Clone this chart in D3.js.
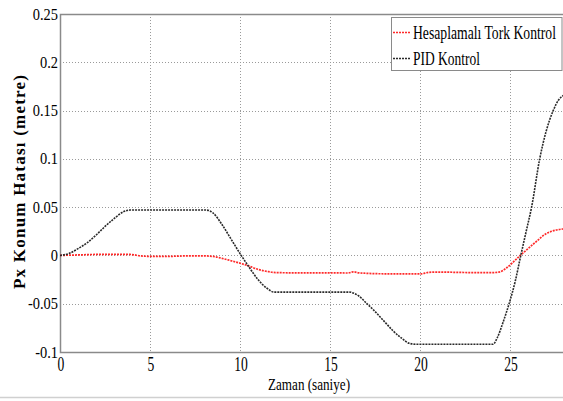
<!DOCTYPE html>
<html>
<head>
<meta charset="utf-8">
<script src="https://cdn.jsdelivr.net/npm/d3@7"></script>
<style>
  body { margin: 0; background: #fff; }
  svg text { font-family: "Liberation Serif", "DejaVu Serif", serif; }
</style>
</head>
<body>
<svg id="chart" width="563" height="401"></svg>
<script>
// PID Kontrol (black)
var pidTime = [0, 0.5, 1, 1.5, 2, 2.5, 3, 3.5, 3.9, 8.1, 8.5, 9, 9.5, 10, 10.5, 11, 11.5, 11.9,
  16.1, 16.3, 16.6, 17, 17.5, 18, 18.5, 19, 19.4, 19.8, 24.05, 24.3, 24.6, 24.95, 25.3, 25.6, 25.9, 26.2, 26.65, 27.0, 27.4, 27.7, 28]
var pidValue = [0, 0.002, 0.007, 0.013, 0.021, 0.030, 0.038, 0.045, 0.047, 0.047, 0.044, 0.032, 0.017, 0.002, -0.012, -0.025, -0.034, -0.038,
  -0.038, -0.039, -0.042, -0.049, -0.058, -0.068, -0.078, -0.086, -0.091, -0.092, -0.092, -0.085, -0.070, -0.050, -0.026, 0.000, 0.025, 0.050, 0.100, 0.128, 0.150, 0.161, 0.166]

// Hesaplamalı Tork Kontrol (red)
var htkTime = [0, 1, 2, 3, 3.9, 4.5, 5, 6, 7, 8, 8.5, 9, 9.5, 10, 10.5, 11, 11.5, 12, 13, 14, 15, 16, 16.3, 16.6, 17, 18, 19, 20,
  20.5, 21, 22, 23, 24, 24.4, 24.8, 25.2, 25.6, 26, 26.5, 27, 27.5, 28]
var htkValue = [0, 0.0005, 0.001, 0.001, 0.001, -0.0005, -0.001, -0.001, -0.0005, -0.0005, -0.001, -0.003, -0.0055, -0.008, -0.011, -0.0145, -0.0165, -0.0178, -0.018, -0.018, -0.018, -0.0182, -0.017, -0.018, -0.0185, -0.019, -0.019, -0.0192,
  -0.0175, -0.0172, -0.0175, -0.0178, -0.0178, -0.0172, -0.013, -0.0065, 0.0005, 0.007, 0.015, 0.0225, 0.026, 0.0275]

var xTicks = [0, 5, 10, 15, 20, 25]
var yTicks = [-0.1, -0.05, 0, 0.05, 0.1, 0.15, 0.2, 0.25]
var seriesNames = ["Hesaplamalı Tork Kontrol", "PID Kontrol"]
var seriesColors = ["#ff2a2a", "#2a2a2a"]

var svg = d3.select("#chart")
const margin = { top: 14, right: -1, bottom: 49, left: 60 }
var W = 563, H = 401
var x = d3.scaleLinear().domain([0, 28]).range([margin.left, W - margin.right])
var y = d3.scaleLinear().domain([-0.1, 0.25]).range([H - margin.bottom, margin.top])

// figure frame line at bottom
svg.append("line").attr("x1", 0).attr("x2", W).attr("y1", 397.5).attr("y2", 397.5)
  .style("stroke", "#d0d0d0").style("stroke-width", 1.5)

// grid
svg.selectAll(".vgrid").data(xTicks.slice(1)).join("line").attr("class", "vgrid")
  .attr("x1", d => Math.round(x(d)) + 0.5).attr("x2", d => Math.round(x(d)) + 0.5)
  .attr("y1", y(0.25)).attr("y2", y(-0.1))
  .style("stroke", "#9a9a9a").style("stroke-dasharray", "1,2")
svg.selectAll(".hgrid").data(yTicks.slice(1, -1)).join("line").attr("class", "hgrid")
  .attr("x1", x(0)).attr("x2", W)
  .attr("y1", d => Math.round(y(d)) + 0.5).attr("y2", d => Math.round(y(d)) + 0.5)
  .style("stroke", "#9a9a9a").style("stroke-dasharray", "1,2")

// frame
svg.append("path")
  .attr("d", "M" + W + "," + (y(0.25) + 0.5) + "H" + (x(0) + 0.5) + "V" + (y(-0.1) + 0.5) + "H" + W)
  .style("fill", "none").style("stroke", "#8a8a8a").style("stroke-width", 1.5)

// lines
var line = d3.line().x(d => x(d[0])).y(d => y(d[1])).curve(d3.curveMonotoneX)
var htk = htkTime.map((t, i) => [t, htkValue[i]])
var pid = pidTime.map((t, i) => [t, pidValue[i]])
svg.append("path").datum(htk).attr("d", line)
  .style("fill", "none").style("stroke", seriesColors[0]).style("stroke-width", 1.7).style("stroke-dasharray", "2,1")
svg.append("path").datum(pid).attr("d", line)
  .style("fill", "none").style("stroke", seriesColors[1]).style("stroke-width", 1.6).style("stroke-dasharray", "2,1")

// tick labels
svg.selectAll(".ytick").data(yTicks).join("text").attr("class", "ytick")
  .attr("transform", d => "translate(58," + y(d) + ") scale(0.9,1)")
  .attr("dy", "0.35em").attr("text-anchor", "end").attr("font-size", 16)
  .text(d => d === 0 ? "0" : String(d))
svg.selectAll(".xtick").data(xTicks).join("text").attr("class", "xtick")
  .attr("transform", d => "translate(" + (x(d) + 1) + ",371) scale(0.68,1)")
  .attr("text-anchor", "middle").attr("font-size", 20)
  .text(d => d)

// axis titles
svg.append("text").attr("x", 309).attr("y", 390).attr("text-anchor", "middle")
  .attr("font-size", 17).attr("textLength", 82).attr("lengthAdjust", "spacingAndGlyphs")
  .text("Zaman (saniye)")
svg.append("text").attr("transform", "translate(25,182) rotate(-90)").attr("text-anchor", "middle")
  .attr("font-size", 17).attr("font-weight", "bold").attr("textLength", 214).attr("lengthAdjust", "spacing")
  .text("Px Konum Hatası (metre)")

// legend
var lg = svg.append("g")
lg.append("rect").attr("x", 391.5).attr("y", 17.5).attr("width", 170.5).attr("height", 53)
  .style("fill", "#fff").style("stroke", "#8a8a8a").style("stroke-width", 1)
lg.selectAll(".lgline").data(seriesNames).join("line").attr("class", "lgline")
  .attr("x1", 393).attr("x2", 411).attr("y1", (d, i) => 32.5 + i * 26).attr("y2", (d, i) => 32.5 + i * 26)
  .style("stroke", (d, i) => seriesColors[i]).style("stroke-width", 1.4).style("stroke-dasharray", "2,1")
lg.selectAll(".lgtext").data(seriesNames).join("text").attr("class", "lgtext")
  .attr("x", 413).attr("y", (d, i) => 39 + i * 26).attr("font-size", 19)
  .attr("textLength", (d, i) => i === 0 ? 143 : 67).attr("lengthAdjust", "spacingAndGlyphs")
  .text(d => d)
</script>
</body>
</html>
